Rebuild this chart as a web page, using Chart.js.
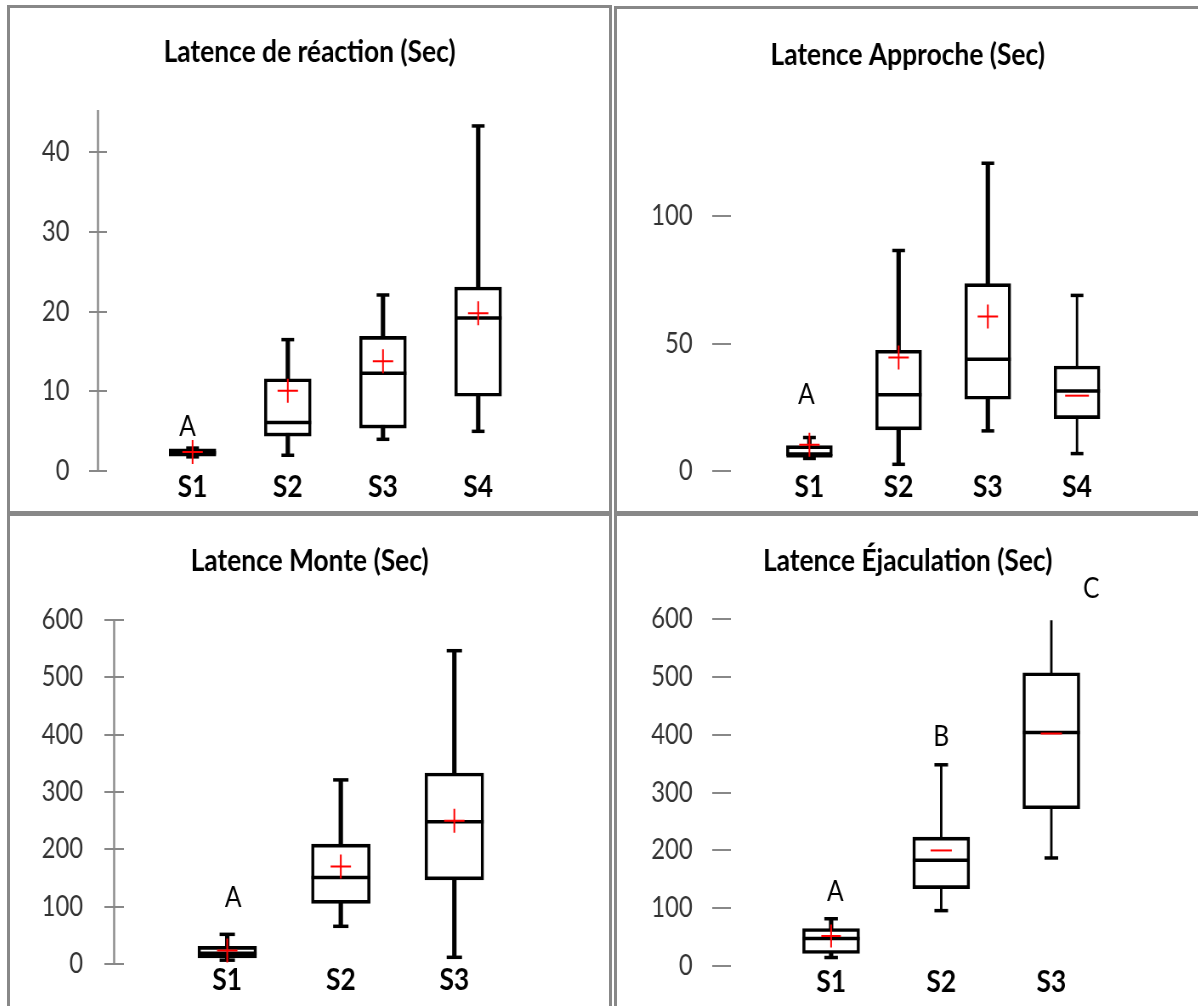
<!DOCTYPE html>
<html lang="fr">
<head>
<meta charset="utf-8">
<title>Latences S1-S4</title>
<script src="https://cdn.jsdelivr.net/npm/chart.js@4.4.1/dist/chart.umd.min.js"></script>
<style>
  html, body { margin: 0; padding: 0; background: #fff; }
  body { width: 1198px; height: 1006px; position: relative; overflow: hidden; }
  .cadre { position: absolute; border: 3px solid #888; box-sizing: border-box; }
  /* texte un peu étroit comme dans l'original : on comprime en largeur */
  canvas { position: absolute; transform-origin: 0 0; transform: scaleX(0.85); }
</style>
</head>
<body>
<div class="cadre" style="left:7px;top:5px;width:605px;height:509px"></div>
<div class="cadre" style="left:614px;top:6px;width:600px;height:508px"></div>
<div class="cadre" style="left:7px;top:513px;width:605px;height:500px"></div>
<div class="cadre" style="left:614px;top:513px;width:600px;height:500px"></div>

<canvas id="reaction" width="705" height="503" style="left:10px;top:8px"></canvas>
<canvas id="approche" width="684" height="502" style="left:617px;top:9px"></canvas>
<canvas id="monte" width="705" height="490" style="left:10px;top:516px"></canvas>
<canvas id="ejaculation" width="684" height="490" style="left:617px;top:516px"></canvas>

<script>
// --- données ---
// latence de réaction
const reacCats = ['S1', 'S2', 'S3', 'S4'];
const reacMin  = [1.8, 2.0, 4.0, 5.0];
const reacQ1   = [1.9, 4.4, 5.4, 9.4];
const reacMed  = [2.3, 6.1, 12.3, 19.2];
const reacQ3   = [2.8, 11.6, 16.9, 23.1];
const reacMax  = [2.9, 16.5, 22.1, 43.3];
const reacMean = [2.4, 10.1, 13.8, 19.8];
const reacTicks = [0, 10, 20, 30, 40];
const reacLetters = ['A', '', '', ''];

// latence approche
const approCats = ['S1', 'S2', 'S3', 'S4'];
const approMin  = [5.0, 2.7, 15.8, 6.9];
const approQ1   = [6.1, 16.2, 28.2, 20.6];
const approMed  = [6.1, 30.0, 43.9, 31.4];
const approQ3   = [10.0, 47.4, 73.5, 41.2];
const approMax  = [13.2, 86.5, 120.7, 68.9];
const approMean = [10.4, 44.6, 60.6, 29.6];
const approTicks = [0, 50, 100];
const approLetters = ['A', '', '', ''];

// latence monte
const monteCats = ['S1', 'S2', 'S3'];
const monteMin  = [7, 66, 12];
const monteQ1   = [11, 106, 147];
const monteMed  = [19, 151, 248];
const monteQ3   = [31, 209, 333];
const monteMax  = [52, 321, 546];
const monteMean = [24, 170, 250];
const monteTicks = [0, 100, 200, 300, 400, 500, 600];
const monteLetters = ['A', '', ''];

// latence éjaculation
const ejacCats = ['S1', 'S2', 'S3'];
const ejacMin  = [15, 96, 187];
const ejacQ1   = [22, 134, 272];
const ejacMed  = [48, 183, 404];
const ejacQ3   = [65, 223, 507];
const ejacMax  = [82, 348, 597];
const ejacMean = [52, 200, 402];
const ejacTicks = [0, 100, 200, 300, 400, 500, 600];
const ejacLetters = ['A', 'B', 'C'];

Chart.defaults.font.family = "Lato, 'Open Sans', sans-serif";

// lettres au-dessus des moustaches
function lettresPlugin(texts, tops, dx, dy) {
    return {
        id: 'lettres',
        afterDatasetsDraw(chart) {
            const { ctx, scales: { x, y } } = chart;
            ctx.save();
            ctx.font = "29px Lato, 'Open Sans', sans-serif";
            ctx.fillStyle = '#000';
            ctx.textAlign = 'center';
            ctx.textBaseline = 'middle';
            texts.forEach((t, i) => {
                if (!t) return;
                const ddx = Array.isArray(dx) ? dx[i] : dx;
                const ddy = Array.isArray(dy) ? dy[i] : dy;
                ctx.fillText(t, x.getPixelForValue(i + 1) + ddx, y.getPixelForValue(tops[i]) + ddy);
            });
            ctx.restore();
        }
    };
}

// trait vertical de l'axe Y (traverse les graduations)
function axePlugin(show, tickLen) {
    return {
        id: 'axeY',
        afterDraw(chart) {
            if (!show) return;
            const { ctx, chartArea } = chart;
            const x = chartArea.left - tickLen / 2;
            ctx.save();
            ctx.strokeStyle = '#888';
            ctx.lineWidth = 2.4;
            ctx.beginPath();
            ctx.moveTo(x, chartArea.top);
            ctx.lineTo(x, chartArea.bottom);
            ctx.stroke();
            ctx.restore();
        }
    };
}

function boite(id, d, s) {
    const pts = vals => vals.map((v, i) => ({ x: i + 1, y: v }));
    const moustache = thin => d.min
        .map((v, i) => ({ x: i + 1, y: [v, d.max[i]], thin: !!s.thin[i] }))
        .filter(p => p.thin === thin);
    const capR = [...d.min.map(() => s.capR), ...d.max.map((v, i) => s.noTopCap.includes(i) ? 0 : s.capR)];
    const meanR = s.meanStyle.map(st => st === 'cross' ? s.crossR : s.dashR);

    new Chart(document.getElementById(id), {
        type: 'bar',
        data: {
            datasets: [
                {
                    data: moustache(false),
                    backgroundColor: '#000', borderWidth: 0,
                    barThickness: 4.5, maxBarThickness: 4.5, grouped: false, order: 6,
                },
                {
                    data: moustache(true),
                    backgroundColor: '#000', borderWidth: 0,
                    barThickness: 2.2, maxBarThickness: 2.2, grouped: false, order: 5,
                },
                {
                    data: d.q1.map((v, i) => ({ x: i + 1, y: [v, d.q3[i]] })),
                    backgroundColor: '#fff', borderColor: '#000', borderWidth: 3.6,
                    borderSkipped: false,
                    barThickness: s.boxW, maxBarThickness: s.boxW, grouped: false, order: 4,
                },
                {
                    type: 'line',
                    data: [...pts(d.min), ...pts(d.max)],
                    showLine: false, pointStyle: 'line',
                    pointRadius: capR, pointBorderWidth: 3.5, pointBorderColor: '#000',
                    order: 3, clip: false,
                },
                {
                    type: 'line',
                    data: pts(d.med),
                    showLine: false, pointStyle: 'line',
                    pointRadius: s.boxW / 2, pointBorderWidth: 3.5, pointBorderColor: '#000',
                    order: 2, clip: false,
                },
                {
                    type: 'line',
                    data: pts(d.mean),
                    showLine: false, pointStyle: s.meanStyle,
                    pointRadius: meanR, pointBorderWidth: 2, pointBorderColor: '#ff0000',
                    order: 1, clip: false,
                },
            ],
        },
        options: {
            responsive: false,
            animation: false,
            events: [],
            layout: { padding: { left: s.pad, right: s.pad, top: 0, bottom: 0 } },
            plugins: {
                legend: { display: false },
                tooltip: { enabled: false },
                title: {
                    display: true,
                    text: s.title,
                    color: '#000',
                    font: { size: 31, weight: 'bold', lineHeight: 1.2 },
                    padding: { top: s.titleTop, bottom: s.titleBottom },
                },
            },
            scales: {
                x: {
                    type: 'linear', offset: false,
                    min: s.xmin, max: s.xmax,
                    grid: { display: false, drawTicks: false },
                    border: { display: false },
                    afterBuildTicks: sc => { sc.ticks = d.cats.map((c, i) => ({ value: i + 1 })); },
                    afterFit: sc => { sc.height = s.xHeight; },
                    ticks: {
                        callback: v => d.cats[v - 1],
                        font: { size: 31, weight: 'bold', lineHeight: 1 },
                        color: '#000', padding: 0, maxRotation: 0, autoSkip: false,
                    },
                },
                y: {
                    min: 0, max: s.ymax,
                    afterBuildTicks: sc => { sc.ticks = d.ticks.map(v => ({ value: v })); },
                    afterFit: sc => { sc.width = s.yWidth; },
                    grid: {
                        display: true, drawOnChartArea: false, drawTicks: true,
                        tickLength: s.tickLen, color: '#888', lineWidth: 2,
                    },
                    border: { display: false },
                    ticks: { font: { size: 28 }, color: '#333', padding: s.tickPad },
                },
            },
        },
        plugins: [
            axePlugin(s.axisLine, s.tickLen),
            lettresPlugin(d.letters, d.max, s.ldx, s.ldy),
        ],
    });
}

boite('reaction',
    { cats: reacCats, min: reacMin, q1: reacQ1, med: reacMed, q3: reacQ3, max: reacMax, mean: reacMean, ticks: reacTicks, letters: reacLetters },
    { title: 'Latence de réaction (Sec)', pad: 22, yWidth: 92, xmin: 0.1, xmax: 5.1, ymax: 45.3,
      titleTop: 25.4, titleBottom: 39.4, xHeight: 35.3, tickLen: 21, tickPad: 23,
      boxW: 55, capR: 7.5, crossR: 12, dashR: 14, axisLine: true,
      thin: [], noTopCap: [], meanStyle: ['cross', 'cross', 'cross', 'cross'], ldx: -6, ldy: -21 });

boite('approche',
    { cats: approCats, min: approMin, q1: approQ1, med: approMed, q3: approQ3, max: approMax, mean: approMean, ticks: approTicks, letters: approLetters },
    { title: 'Latence Approche (Sec)', pad: 22, yWidth: 112, xmin: 0.12, xmax: 5.07, ymax: 130,
      titleTop: 27.4, titleBottom: 65.9, xHeight: 37, tickLen: 22, tickPad: 23,
      boxW: 54, capR: 7.5, crossR: 12, dashR: 14, axisLine: false,
      thin: [false, false, false, true], noTopCap: [], meanStyle: ['cross', 'cross', 'cross', 'line'], ldx: -3.5, ldy: -43 });

boite('monte',
    { cats: monteCats, min: monteMin, q1: monteQ1, med: monteMed, q3: monteQ3, max: monteMax, mean: monteMean, ticks: monteTicks, letters: monteLetters },
    { title: 'Latence Monte (Sec)', pad: 22, yWidth: 112, xmin: 0.09, xmax: 4.08, ymax: 600,
      titleTop: 26.4, titleBottom: 40.1, xHeight: 30.7, tickLen: 23, tickPad: 25,
      boxW: 69, capR: 9, crossR: 12, dashR: 13, axisLine: true,
      thin: [], noTopCap: [], meanStyle: ['cross', 'cross', 'cross'], ldx: 7, ldy: -36.6 });

boite('ejaculation',
    { cats: ejacCats, min: ejacMin, q1: ejacQ1, med: ejacMed, q3: ejacQ3, max: ejacMax, mean: ejacMean, ticks: ejacTicks, letters: ejacLetters },
    { title: 'Latence Éjaculation (Sec)', pad: 22, yWidth: 112, xmin: 0.09, xmax: 4.05, ymax: 650,
      titleTop: 26.4, titleBottom: 10.4, xHeight: 30.7, tickLen: 22, tickPad: 23,
      boxW: 67, capR: 8, crossR: 11.5, dashR: 12.5, axisLine: false,
      thin: [false, true, true], noTopCap: [2], meanStyle: ['cross', 'line', 'line'], ldx: [5, 0, 47], ldy: [-27.4, -28.3, -32] });
</script>
</body>
</html>
